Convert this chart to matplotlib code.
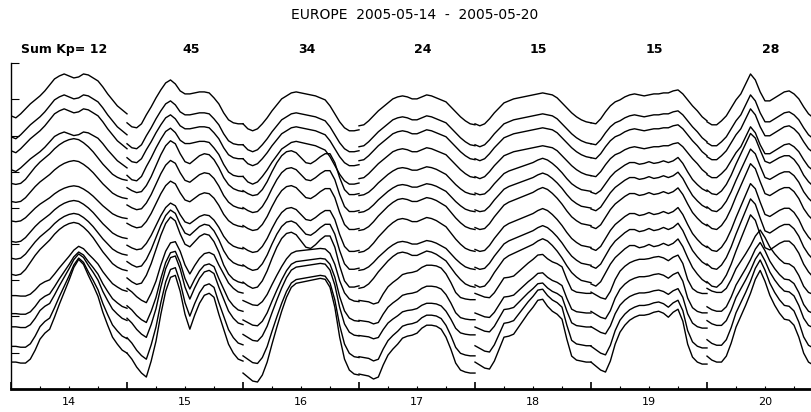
import matplotlib
matplotlib.use("Agg")
import matplotlib.pyplot as plt

# day labels and daily sum of Kp
days = [14, 15, 16, 17, 18, 19, 20]
kp_sums = [12, 45, 34, 24, 15, 15, 28]
hours = list(range(25))

# station offsets (px-like units above the axis) and shape group
baseline = [264, 243, 229, 211, 194, 177, 159, 137, 119, 101, 86, 66, 51, 29, 11]
group = ["A"] * 4 + ["B"] * 6 + ["C"] * 5

# hourly profiles relative to the baseline, per day
profile_a = {
    14: [10, 8, 12, 17, 22, 26, 30, 35, 41, 47, 50, 52, 50, 48, 49, 52, 51, 48, 45, 39, 32, 26, 20, 16, 12],
    15: [3, -1, -2, 2, 11, 19, 28, 36, 43, 46, 42, 35, 32, 32, 33, 34, 34, 33, 28, 22, 13, 6, 3, 2, 2],
    16: [2, -3, -5, -3, 2, 8, 15, 21, 27, 30, 33, 34, 33, 32, 31, 30, 28, 26, 20, 12, 4, -2, -5, -5, -4],
    17: [0, 1, 5, 10, 15, 19, 23, 27, 29, 30, 29, 27, 27, 29, 31, 30, 28, 26, 24, 19, 14, 9, 5, 2, 1],
    18: [2, 0, 2, 7, 13, 18, 23, 25, 27, 28, 29, 30, 31, 32, 33, 32, 31, 28, 23, 18, 13, 9, 6, 4, 3],
    19: [3, 2, 7, 14, 20, 24, 26, 29, 31, 32, 31, 30, 31, 32, 32, 33, 33, 35, 36, 32, 26, 20, 15, 9, 5],
    20: [4, 1, 1, 5, 10, 18, 26, 32, 42, 52, 46, 34, 25, 25, 28, 31, 34, 35, 32, 27, 19, 12, 8, 6, 4],
}
profile_b = {
    14: [12, 11, 12, 16, 22, 28, 33, 37, 41, 46, 50, 53, 55, 56, 55, 52, 48, 43, 37, 31, 26, 21, 18, 16, 15],
    15: [8, 5, 3, 4, 10, 19, 30, 41, 50, 55, 52, 42, 34, 32, 36, 40, 42, 41, 36, 28, 18, 11, 7, 5, 4],
    16: [5, 2, 0, 1, 6, 14, 24, 33, 40, 44, 45, 43, 38, 33, 32, 35, 39, 42, 42, 33, 18, 6, 1, 1, 2],
    17: [0, 1, 4, 9, 15, 20, 25, 29, 32, 33, 32, 30, 30, 32, 34, 33, 31, 28, 25, 19, 13, 8, 4, 2, 1],
    18: [3, 1, 2, 7, 14, 20, 26, 29, 31, 33, 35, 37, 39, 42, 44, 42, 38, 33, 27, 20, 14, 10, 7, 6, 5],
    19: [4, 2, 6, 14, 22, 28, 32, 36, 39, 39, 37, 38, 40, 38, 39, 41, 39, 41, 45, 38, 28, 19, 13, 8, 5],
    20: [6, 2, 1, 5, 12, 22, 34, 45, 56, 67, 62, 49, 37, 35, 38, 41, 43, 43, 39, 32, 22, 15, 10, 7, 5],
}
profile_c = {
    14: [16, 16, 15, 15, 19, 28, 39, 45, 49, 61, 74, 86, 98, 111, 119, 114, 103, 93, 82, 66, 53, 41, 34, 28, 25],
    15: [25, 19, 11, 5, 1, 17, 37, 64, 87, 101, 103, 87, 64, 49, 63, 75, 83, 85, 81, 64, 49, 34, 25, 19, 17],
    16: [5, 1, -3, -4, 3, 16, 34, 51, 67, 81, 91, 95, 96, 97, 98, 99, 100, 99, 91, 71, 41, 19, 8, 4, 3],
    17: [4, 3, 2, -1, 1, 13, 23, 29, 34, 40, 42, 43, 45, 50, 53, 53, 52, 49, 41, 29, 15, 8, 6, 5, 5],
    18: [16, 13, 10, 9, 17, 29, 41, 42, 44, 51, 58, 65, 71, 78, 79, 72, 67, 64, 59, 39, 22, 18, 17, 16, 16],
    19: [16, 12, 8, 6, 17, 34, 46, 53, 58, 61, 63, 63, 64, 66, 67, 65, 61, 66, 69, 57, 34, 21, 16, 14, 14],
    20: [22, 18, 16, 16, 22, 35, 51, 62, 73, 85, 99, 108, 97, 83, 73, 65, 59, 58, 53, 41, 25, 16, 13, 11, 11],
}
profiles = {"A": profile_a, "B": profile_b, "C": profile_c}

# per-station amplitude of the day's profile
amp = {
    14: [1, 1, 1, 0.9, 1.02, 0.93, 0.8, 0.93, 1.02, 1.18, 0.48, 0.6, 0.71, 0.86, 1],
    15: [1, 1, 1, 1.1, 1.0, 0.95, 0.9, 0.9, 1.1, 1.3, 0.6, 0.7, 0.8, 0.9, 1],
    16: [1, 1, 1, 1.1, 1, 1, 1, 1, 1.1, 1.25, 0.55, 0.65, 0.75, 0.85, 1],
    17: [1, 1, 1, 1, 0.85, 0.85, 0.97, 1.03, 0.88, 1.1, 0.72, 0.7, 0.66, 0.85, 1],
    18: [1, 1, 1, 1, 0.85, 0.9, 0.98, 1.0, 1.02, 1.13, 0.62, 0.64, 0.7, 0.9, 1],
    19: [1, 1, 1, 1, 0.85, 0.9, 0.95, 1, 1.05, 1.1, 0.7, 0.74, 0.72, 0.87, 1],
    20: [1, 1, 1, 1, 0.93, 0.95, 1, 1.03, 1.07, 1.1, 0.68, 0.75, 0.8, 0.93, 1],
}

plt.rcParams["font.family"] = ["DejaVu Sans"]

fig = plt.figure(figsize=(8.12, 4.12), dpi=100)
ax = fig.add_axes([11 / 812, 23 / 412, 812 / 812, 326 / 412])

for d in days:
    x = [d + h / 24 for h in hours]
    for k in range(len(baseline)):
        prof = profiles[group[k]][d]
        y = [baseline[k] + amp[d][k] * v for v in prof]
        ax.plot(x, y, color="black", lw=1.0, solid_joinstyle="round")

ax.set_xlim(14, 21)
ax.set_ylim(0, 327)
for side in ("top", "right"):
    ax.spines[side].set_visible(False)
ax.spines["bottom"].set_linewidth(2.0)
ax.spines["left"].set_linewidth(1.0)

ax.set_xticks(range(14, 22), labels=[""] * 8)
minor_pos = [d + q / 4 for d in days for q in (1, 2, 3)]
minor_lab = [str(d) if q == 2 else "" for d in days for q in (1, 2, 3)]
ax.set_xticks(minor_pos, labels=minor_lab, minor=True)
ax.tick_params(axis="x", which="major", direction="in", length=5, width=1.2)
ax.tick_params(axis="x", which="minor", direction="in", length=2.5, width=0.8,
               labelsize=8, pad=6)
ax.set_yticks([0, 36, 73, 109, 145, 182, 218, 254, 291, 327], labels=[""] * 10)
ax.tick_params(axis="y", direction="in", length=6, width=0.8)

fig.text(415 / 812, 1 - 15 / 412, "EUROPE  2005-05-14  -  2005-05-20",
         ha="center", va="center", fontsize=10)
trans = ax.get_xaxis_transform()
ax.text(14.086, 1.04, "Sum Kp= %d" % kp_sums[0], transform=trans,
        ha="left", va="center", fontsize=9, fontweight="bold", clip_on=False)
for d, kp in zip(days[1:], kp_sums[1:]):
    ax.text(d + 0.55, 1.04, str(kp), transform=trans, ha="center", va="center",
            fontsize=9, fontweight="bold", clip_on=False)

fig.savefig("out.png", dpi=100)
